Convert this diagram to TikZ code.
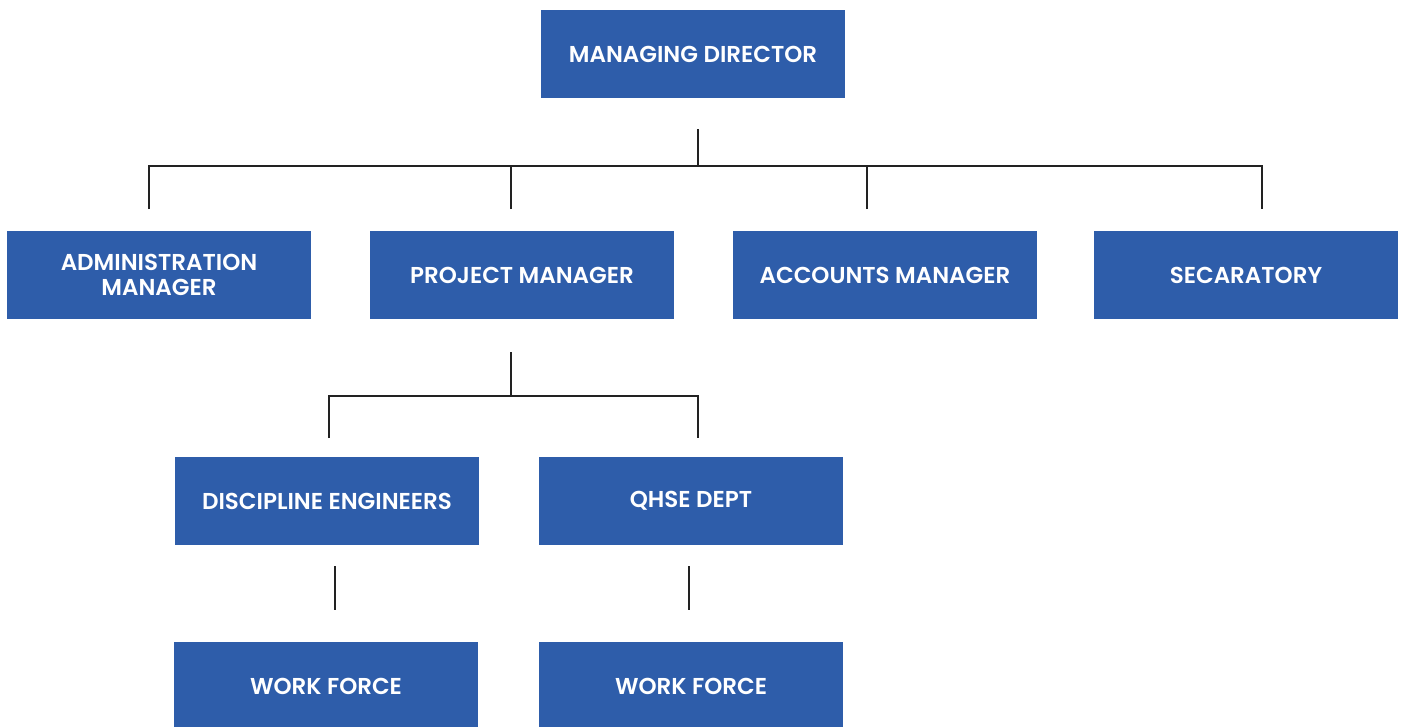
\documentclass[tikz,border=0pt]{standalone}
\usepackage{fontspec}
\setmainfont{Poppins}[UprightFont=* SemiBold, BoldFont=* Bold]
\definecolor{boxblue}{HTML}{2E5DAA}
\definecolor{linegray}{HTML}{222222}
\begin{document}
\begin{tikzpicture}[x=1pt,y=-1pt,
  orgbox/.style={fill=boxblue, text=white, minimum width=304pt, minimum height=88pt,
    inner sep=0pt, align=center, font=\fontsize{23}{25}\selectfont},
  conn/.style={draw=linegray, line width=2pt}]
\useasboundingbox (0,0) rectangle (1405,726);
\fill[white] (0,0) rectangle (1405,726);
% nodes
\node[orgbox] (md)  at (693,54)  {MANAGING DIRECTOR};
\node[orgbox] (adm) at (159,275) {ADMINISTRATION\\MANAGER};
\node[orgbox] (pm)  at (522,275) {PROJECT MANAGER};
\node[orgbox] (acc) at (885,275) {ACCOUNTS MANAGER};
\node[orgbox] (sec) at (1246,275) {SECARATORY};
\node[orgbox] (de)  at (327,501) {DISCIPLINE ENGINEERS};
\node[orgbox] (qh)  at (691,501) {QHSE DEPT};
\node[orgbox] (wf1) at (326,686) {WORK FORCE};
\node[orgbox] (wf2) at (691,686) {WORK FORCE};
% connector coordinates
\coordinate (mdA) at (698,129);
\coordinate (mdB) at (698,166);
\coordinate (admT) at (149,209);
\coordinate (pmT)  at (511,209);
\coordinate (accT) at (867,209);
\coordinate (secT) at (1262,209);
\coordinate (pmA) at (511,352);
\coordinate (pmB) at (511,396);
\coordinate (deT) at (329,438);
\coordinate (qhT) at (698,438);
\coordinate (deA) at (335,566);
\coordinate (wf1T) at (335,610);
\coordinate (qhA) at (689,566);
\coordinate (wf2T) at (689,610);
% connectors
\draw[conn] (mdA) -- (mdB);
\draw[conn] (admT) |- (mdB) -| (secT);
\draw[conn] (pmT) -- (pmT |- mdB);
\draw[conn] (accT) -- (accT |- mdB);
\draw[conn] (pmA) -- (pmB);
\draw[conn] (deT) |- (pmB) -| (qhT);
\draw[conn] (deA) -- (wf1T);
\draw[conn] (qhA) -- (wf2T);
\end{tikzpicture}
\end{document}
